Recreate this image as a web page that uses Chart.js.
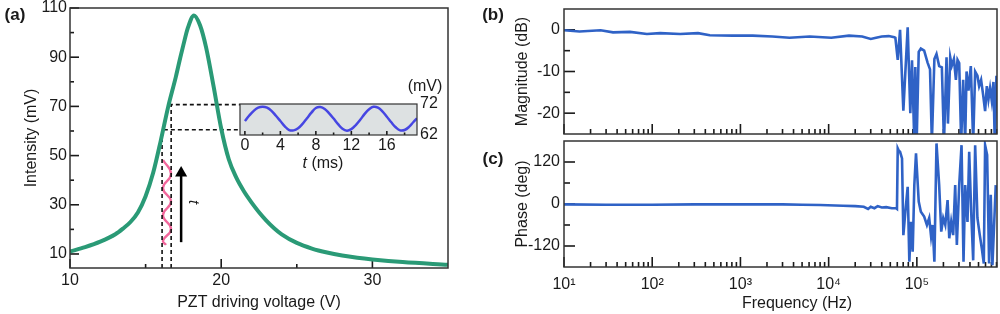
<!DOCTYPE html>
<html>
<head>
<meta charset="utf-8">
<script src="https://cdn.jsdelivr.net/npm/chart.js@4.4.1/dist/chart.umd.min.js"></script>
<style>
  html, body { margin: 0; padding: 0; background: #fff; }
  #wrap { position: relative; width: 1000px; height: 314px; overflow: hidden;
          font-family: 'Liberation Sans', Arial, sans-serif; color: #1a1a1a; }
  canvas { position: absolute; }
  .lbl { position: absolute; font-size: 16px; line-height: 1; white-space: nowrap;
         transform: translate(-50%, -50%); }
  .panel { font-weight: bold; font-size: 17px; }
</style>
</head>
<body>
<div id="wrap">
  <canvas id="chartA" width="460" height="314" style="left:0;top:0"></canvas>
  <canvas id="chartInset" width="260" height="110" style="left:200px;top:70px"></canvas>
  <canvas id="chartB" width="500" height="140" style="left:500px;top:0"></canvas>
  <canvas id="chartC" width="500" height="179" style="left:500px;top:135px"></canvas>

  <div class="lbl panel" style="left:15px;top:14px">(a)</div>
  <div class="lbl panel" style="left:493px;top:14px">(b)</div>
  <div class="lbl panel" style="left:493px;top:158px">(c)</div>
  <div class="lbl" style="left:425px;top:86px">(mV)</div>
  <div class="lbl" style="left:323px;top:163px"><i>t</i> (ms)</div>
  <div class="lbl" style="left:194px;top:202px;font-size:15px;transform:translate(-50%,-50%) rotate(90deg)"><i>t</i></div>
  <div class="lbl" style="left:797px;top:303px">Frequency (Hz)</div>
</div>

<script>
// ---------------------------
// DATA
// ---------------------------

// (a) intensity vs PZT driving voltage
const scanVolt = [10, 11, 12, 13, 13.5, 14, 14.5, 15, 15.5, 16, 16.5, 17, 17.3, 17.5, 17.8, 18.2,
                  18.6, 19, 19.5, 20, 20.5, 21, 21.5, 22, 22.5, 23, 23.5, 24, 25, 26, 27, 28, 29,
                  30, 32, 35];
const scanInt  = [11, 12.8, 15, 18, 20.3, 23, 27, 33.5, 43, 56, 70, 82, 90, 95, 102, 107,
                  103, 94, 78, 61, 48.5, 41, 35.5, 31, 27, 23.5, 20.5, 18, 14.5, 12.2, 10.6, 9.4, 8.5,
                  7.8, 6.7, 5.6];

// dashed guide lines (lock points at 62 / 72 mV)
const guideLowV  = [16.09, 16.09, 21.24];
const guideLowI  = [4.3, 60.5, 60.5];
const guideHighV = [16.69, 16.69, 21.24];
const guideHighI = [4.3, 70.7, 70.7];

// pink modulation trace (time runs upward), turning points
const modV = [16.15, 16.68, 16.15, 16.68, 16.15, 16.68, 16.15, 16.35];
const modI = [48.2, 42.5, 36.8, 31.3, 25.8, 20.2, 15.4, 13.7];

// arrow
const arrowV = [17.35, 17.35];
const arrowI = [14.8, 42.9];

const voltTicks  = [10, 15, 20, 25, 30];
const voltLabels = ['10', '', '20', '', '30'];
const intTicks   = [10, 20, 30, 40, 50, 60, 70, 80, 90, 100, 110];
const intLabels  = ['10', '', '30', '', '50', '', '70', '', '90', '', '110'];

// inset: transmitted intensity vs time
const insetT = [0, 0.5, 1, 1.5, 2, 2.5, 3, 3.5, 4, 4.5, 5, 5.5, 6, 6.5, 7, 7.5, 8, 8.5, 9, 9.5,
                10, 10.5, 11, 11.5, 12, 12.5, 13, 13.5, 14, 14.5, 15, 15.5, 16, 16.5, 17, 17.5,
                18, 18.5, 19, 19.4];
const insetI = [66.5, 68.3, 69.8, 70.8, 71.1, 70.8, 69.8, 68.2, 66.5, 64.8, 63.6, 63.5, 64.2, 65.6,
                67.4, 69.2, 70.7, 71.0, 70.4, 69.0, 67.3, 65.5, 64.0, 63.4, 63.9, 65.2, 66.9, 68.8,
                70.3, 71.1, 70.8, 69.6, 67.9, 66.1, 64.5, 63.5, 63.6, 64.6, 66.2, 67.4];
const insetTicks  = [0, 2, 4, 6, 8, 10, 12, 14, 16, 18];
const insetLabels = ['0', '', '4', '', '8', '', '12', '', '16', ''];
const insetYTicks = [62, 72];

// (b) magnitude
const magFreq = [10, 15, 26, 36, 56, 87, 123, 207, 330, 450, 820, 1380, 2300, 3600, 6100, 10700,
                 17000, 24000, 30000, 34500, 40000, 48000, 55600, 57100, 60700, 64500, 70300,
                 78700, 84300, 88100, 93600, 96100, 99500, 105000, 111000, 121000, 132000, 141000,
                 148000, 158000, 167000, 179000, 192000, 203000, 217000, 225000, 239000, 249000,
                 263000, 277000, 289000, 302000, 318000, 335000, 353000, 366000, 385000, 409000,
                 435000, 458000, 486000, 508000, 535000, 564000, 594000, 621000, 648000, 676000,
                 706000, 738000, 764000, 798000];
const magDb   = [-0.1, -0.4, -0.1, -0.6, -0.5, -1.0, -0.8, -1.0, -0.8, -1.3, -1.4, -1.4, -1.6, -1.9,
                 -1.6, -1.9, -1.4, -1.6, -2.2, -1.9, -1.6, -1.5, -1.75, -1.9, -7.2, 0, -19.4,
                 0.6, -20, -7.3, -27, -8.9, -27, -5.3, -4.5, -5, -7.8, -9.5,
                 -27, -7, -5.8, -8.7, -9, -27, -6.6, -22.5, -6.6, -8.6,
                 -7, -12, -7.2, -8, -27, -12, -27, -10, -14.6, -8.7,
                 -27, -10, -11, -13.5, -12, -15.6, -19.5, -13.5, -16.7, -14,
                 -17, -12.5, -27, -11];

// (c) phase
const phaseFreq = [10, 30, 100, 300, 1000, 3000, 5000, 8000, 14500, 20000, 25000, 28000, 30000,
                   33000, 36000, 40000, 45000, 52000, 58000, 59500, 60700, 62500, 64500, 67900,
                   70300, 74100, 78700, 82200, 85900, 89700, 93600, 97800, 105000, 111000, 121000,
                   130000, 138000, 145000, 151000, 158000, 167000, 179000, 189000, 199000, 210000,
                   223000, 233000, 245000, 258000, 272000, 284000, 302000, 321000, 338000, 353000,
                   375000, 392000, 413000, 435000, 458000, 486000, 517000, 545000, 574000, 594000,
                   626000, 659000, 688000, 719000, 757000, 784000];
const phaseDeg  = [-1, -2, -2, -1, -1, -1, -2, -3, -5, -6, -8, -14, -8,
                   -12, -6, -10, -9, -12, -12, -14, 159, 152, 149, 130,
                   -89, -22, 49, -165, -51, -136, 54, 145, 7, -22, -36,
                   -60, -40, -93, -60, -165, 173, 54, -79, -40, -60,
                   11, -98, -51, -89, 54, -117, 54, 168, -165, 54,
                   -51, 149, -22, -161, 168, -40, -89, -127, -170, 168,
                   140, -170, 26, -175, -40, 54];

const freqMin = 10;
const freqMax = 8.1e5;
const freqDecades = [10, 100, 1000, 10000, 100000];
const freqLabels  = ['10¹', '10²', '10³', '10⁴', '10⁵'];
const magTicks    = [-20, -15, -10, -5, 0];
const magLabels   = ['-20', '', '-10', '', '0'];
const phaseTicks  = [-120, -60, 0, 60, 120];
const phaseLabels = ['-120', '', '0', '', '120'];

// ---------------------------
// HELPERS
// ---------------------------
const FONT = "'Liberation Sans', Arial, sans-serif";
const INK = '#1a1a1a';
const GREEN = '#2a9a76';
const BLUE = '#2f62c6';

function zip(xs, ys) {
  return xs.map((x, i) => ({ x: x, y: ys[i] }));
}

// frame (and optional fill) around the plot area
const framePlugin = {
  id: 'frame',
  beforeDraw(chart, args, opts) {
    if (!opts.fill) return;
    const a = chart.chartArea;
    chart.ctx.save();
    chart.ctx.fillStyle = opts.fill;
    chart.ctx.fillRect(a.left, a.top, a.width, a.height);
    chart.ctx.restore();
  },
  afterDraw(chart, args, opts) {
    const a = chart.chartArea;
    const ctx = chart.ctx;
    ctx.save();
    ctx.strokeStyle = opts.color || '#333';
    ctx.lineWidth = opts.width || 1.5;
    ctx.strokeRect(a.left, a.top, a.width, a.height);
    ctx.restore();
  }
};
Chart.register(framePlugin);

// tick marks pointing into the plot area, placed by the scale itself
function inwardTicks(specs) {
  return {
    id: 'inwardTicks',
    beforeDatasetsDraw(chart) {
      const ctx = chart.ctx;
      const area = chart.chartArea;
      ctx.save();
      ctx.strokeStyle = INK;
      ctx.lineWidth = 1.6;
      specs.forEach(s => {
        const scale = chart.scales[s.axis];
        scale.ticks.forEach(t => {
          const len = s.isMajor(t.value) ? s.major : s.minor;
          const p = scale.getPixelForValue(t.value);
          ctx.beginPath();
          if (s.axis === 'x') {
            ctx.moveTo(p, area.bottom);
            ctx.lineTo(p, area.bottom - len);
          } else {
            ctx.moveTo(area.left, p);
            ctx.lineTo(area.left + len, p);
          }
          ctx.stroke();
        });
      });
      ctx.restore();
    }
  };
}

function fixedWidth(w) {
  return function(scale) {
    scale.width = w;
    scale.paddingTop = 0;
    scale.paddingBottom = 0;
  };
}
function fixedHeight(h) {
  return function(scale) {
    scale.height = h;
    scale.paddingLeft = 0;
    scale.paddingRight = 0;
  };
}
function setTicks(values) {
  return function(scale) {
    scale.ticks = values.map(v => ({ value: v }));
  };
}

const noGrid = { display: false, drawTicks: false, drawOnChartArea: false };

const baseOptions = {
  responsive: false,
  animation: false,
  plugins: { legend: { display: false }, tooltip: { enabled: false } },
  elements: { point: { radius: 0 } }
};

// ---------------------------
// (a) main resonance scan
// ---------------------------
new Chart(document.getElementById('chartA'), {
  type: 'scatter',
  data: {
    datasets: [
      { data: zip(scanVolt, scanInt), showLine: true, borderColor: GREEN, borderWidth: 4,
        cubicInterpolationMode: 'monotone', pointRadius: 0 },
      { data: zip(guideLowV, guideLowI), showLine: true, borderColor: '#111', borderWidth: 1.6,
        borderDash: [4, 3], pointRadius: 0 },
      { data: zip(guideHighV, guideHighI), showLine: true, borderColor: '#111', borderWidth: 1.6,
        borderDash: [4, 3], pointRadius: 0 },
      { data: zip(modV, modI), showLine: true, borderColor: '#f2679c', borderWidth: 2.4,
        tension: 0.5, pointRadius: 0 },
      { data: zip(arrowV, arrowI), showLine: true, borderColor: '#000', borderWidth: 2.5,
        pointRadius: [0, 7], pointStyle: 'triangle', pointBackgroundColor: '#000',
        pointBorderWidth: 0 }
    ]
  },
  plugins: [inwardTicks([
    { axis: 'x', major: 9, minor: 4, isMajor: v => v % 10 === 0 },
    { axis: 'y', major: 9, minor: 4, isMajor: v => (v - 10) % 20 === 0 }
  ])],
  options: Object.assign({}, baseOptions, {
    layout: { padding: { left: 0, top: 8, right: 12, bottom: 0 } },
    plugins: Object.assign({}, baseOptions.plugins, { frame: { color: '#333', width: 1.5 } }),
    scales: {
      x: {
        type: 'linear', min: 10, max: 35,
        afterBuildTicks: setTicks(voltTicks),
        afterFit: fixedHeight(46),
        border: { display: false },
        grid: noGrid,
        ticks: { autoSkip: false, maxRotation: 0, padding: 3.4, color: INK,
                 font: { family: FONT, size: 16 }, callback: (v, i) => voltLabels[i] },
        title: { display: true, text: 'PZT driving voltage (V)', color: INK,
                 font: { family: FONT, size: 16 }, padding: { top: 0, bottom: 2 } }
      },
      y: {
        type: 'linear', min: 4.3, max: 110,
        afterBuildTicks: setTicks(intTicks),
        afterFit: fixedWidth(70),
        border: { display: false },
        grid: noGrid,
        ticks: { autoSkip: false, padding: 3, color: INK,
                 font: { family: FONT, size: 16 }, callback: (v, i) => intLabels[i] },
        title: { display: true, text: 'Intensity (mV)', color: INK,
                 font: { family: FONT, size: 16 }, padding: { top: 22, bottom: 0 } }
      }
    }
  })
});

// ---------------------------
// inset: intensity vs time
// ---------------------------
new Chart(document.getElementById('chartInset'), {
  type: 'scatter',
  data: {
    datasets: [
      { data: zip(insetT, insetI), showLine: true, borderColor: '#4646e2', borderWidth: 2.5,
        tension: 0.4, pointRadius: 0 }
    ]
  },
  plugins: [inwardTicks([
    { axis: 'x', major: 4, minor: 2.5, isMajor: v => v % 4 === 0 }
  ])],
  options: Object.assign({}, baseOptions, {
    layout: { padding: { left: 40, top: 34, right: 0, bottom: 0 } },
    plugins: Object.assign({}, baseOptions.plugins,
      { frame: { color: '#333', width: 1.2, fill: '#dde1e2' } }),
    scales: {
      x: {
        type: 'linear', min: -0.55, max: 19.4,
        afterBuildTicks: setTicks(insetTicks),
        afterFit: fixedHeight(45),
        border: { display: false },
        grid: noGrid,
        ticks: { autoSkip: false, maxRotation: 0, padding: 1.4, color: INK,
                 font: { family: FONT, size: 16 }, callback: (v, i) => insetLabels[i] }
      },
      y: {
        type: 'linear', position: 'right', min: 62, max: 72,
        afterBuildTicks: setTicks(insetYTicks),
        afterFit: fixedWidth(43),
        border: { display: false },
        grid: noGrid,
        ticks: { autoSkip: false, padding: 3, color: INK, font: { family: FONT, size: 16 } }
      }
    }
  })
});

// ---------------------------
// (b) and (c) frequency response
// ---------------------------
const freqTicks = [];
freqDecades.forEach(d => {
  for (let m = 1; m <= 9; m++) {
    if (m * d <= freqMax) freqTicks.push(m * d);
  }
});
const isDecade = v => freqDecades.indexOf(v) >= 0;

function freqAxis(showLabels, height) {
  return {
    type: 'logarithmic', min: freqMin, max: freqMax,
    afterBuildTicks: setTicks(freqTicks),
    afterFit: fixedHeight(height),
    border: { display: false },
    grid: noGrid,
    ticks: { autoSkip: false, maxRotation: 0, padding: 8.4, color: INK,
             font: { family: FONT, size: 16 },
             callback: v => {
               if (!showLabels) return '';
               const i = freqDecades.indexOf(v);
               return i >= 0 ? freqLabels[i] : '';
             } }
  };
}

function respAxis(min, max, ticks, labels, title) {
  return {
    type: 'linear', min: min, max: max,
    afterBuildTicks: setTicks(ticks),
    afterFit: fixedWidth(64),
    border: { display: false },
    grid: noGrid,
    ticks: { autoSkip: false, padding: 4, color: INK,
             font: { family: FONT, size: 16 }, callback: (v, i) => labels[i] },
    title: { display: true, text: title, color: INK,
             font: { family: FONT, size: 16 }, padding: { top: 13.4, bottom: 0 } }
  };
}

function respTicks(ticks, labels) {
  return inwardTicks([
    { axis: 'x', major: 10, minor: 5, isMajor: isDecade },
    { axis: 'y', major: 11, minor: 6, isMajor: v => labels[ticks.indexOf(v)] !== '' }
  ]);
}

new Chart(document.getElementById('chartB'), {
  type: 'scatter',
  data: {
    datasets: [
      { data: zip(magFreq, magDb), showLine: true, borderColor: BLUE, borderWidth: 2.6,
        pointRadius: 0 }
    ]
  },
  plugins: [respTicks(magTicks, magLabels)],
  options: Object.assign({}, baseOptions, {
    layout: { padding: { left: 0, top: 9, right: 3, bottom: 0 } },
    plugins: Object.assign({}, baseOptions.plugins, { frame: { color: '#333', width: 1.5 } }),
    scales: {
      x: freqAxis(false, 6),
      y: respAxis(-25, 5, magTicks, magLabels, 'Magnitude (dB)')
    }
  })
});

new Chart(document.getElementById('chartC'), {
  type: 'scatter',
  data: {
    datasets: [
      { data: zip(phaseFreq, phaseDeg), showLine: true, borderColor: BLUE, borderWidth: 2.6,
        pointRadius: 0 }
    ]
  },
  plugins: [respTicks(phaseTicks, phaseLabels)],
  options: Object.assign({}, baseOptions, {
    layout: { padding: { left: 0, top: 6, right: 3, bottom: 0 } },
    plugins: Object.assign({}, baseOptions.plugins, { frame: { color: '#333', width: 1.5 } }),
    scales: {
      x: freqAxis(true, 47),
      y: respAxis(-180, 180, phaseTicks, phaseLabels, 'Phase (deg)')
    }
  })
});
</script>
</body>
</html>
